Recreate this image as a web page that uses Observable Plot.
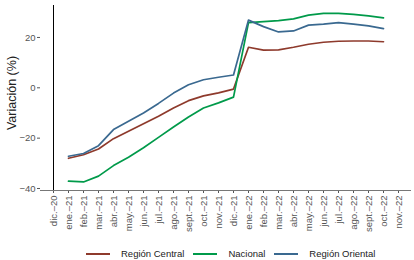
<!DOCTYPE html>
<html><head><meta charset="utf-8">
<script src="https://cdn.jsdelivr.net/npm/d3@7"></script>
<script src="https://cdn.jsdelivr.net/npm/@observablehq/plot@0.6"></script>
<style>
body{margin:0;background:#fff;font-family:"Liberation Sans",Arial,sans-serif;}
#wrap{position:relative;width:414px;height:260px;overflow:hidden;}
#legend{position:absolute;left:86px;top:247px;display:flex;align-items:center;font-size:9.5px;color:#222;line-height:14px;}
.sw{display:inline-block;width:24px;height:2px;margin-right:11px;}
.item{display:flex;align-items:center;margin-right:9px;}
g[aria-label="y-axis label"] text{font-size:12.5px;fill:#222;}
</style></head><body><div id="wrap"></div>
<script>
const months = ["dic.–20","ene.–21","feb.–21","mar.–21","abr.–21","may.–21","jun.–21","jul.–21","ago.–21","sept.–21","oct.–21","nov.–21","dic.–21","ene.–22","feb.–22","mar.–22","abr.–22","may.–22","jun.–22","jul.–22","ago.–22","sept.–22","oct.–22","nov.–22"];
const dataMonths = months.slice(1, 23);
const central  = [-28.0,-26.6,-24.3,-20.2,-17.3,-14.3,-11.3,-8.0,-5.1,-3.2,-2.0,-0.5,16.1,15.0,15.1,16.1,17.3,18.1,18.5,18.6,18.6,18.3];
const nacional = [-37.1,-37.4,-35.1,-30.9,-27.6,-23.8,-19.7,-15.6,-11.6,-8.0,-6.0,-3.7,25.9,26.3,26.7,27.4,28.9,29.6,29.6,29.2,28.6,27.8];
const oriental = [-27.2,-26.1,-23.0,-16.6,-13.3,-10.0,-6.2,-2.1,1.2,3.2,4.2,5.1,26.9,24.3,22.2,22.6,24.9,25.3,25.9,25.3,24.6,23.5];
const seriesNames = ["Región Central","Nacional","Región Oriental"];
const colors = ["#8E3A2C","#009A4A","#3A6990"];
const yTicks = [-40,-20,0,20];

const seriesValues = [central, nacional, oriental];
const rows = [];
seriesNames.forEach((s, i) => dataMonths.forEach((m, j) => rows.push({serie: s, mes: m, valor: seriesValues[i][j]})));

const yDomain = [-40.8, 32.7];
const chart = Plot.plot({
  width: 414, height: 240,
  marginLeft: 40, marginTop: 5, marginBottom: 50, marginRight: 3,
  style: {fontFamily: "'Liberation Sans', Arial, sans-serif", fontSize: "9.5px", color: "#555", background: "white"},
  x: {type: "point", domain: months},
  y: {domain: yDomain},
  color: {domain: seriesNames, range: colors},
  marks: [
    Plot.axisX({tickRotate: -90, tickSize: 3, label: null, tickPadding: 2}),
    Plot.axisY({ticks: yTicks, tickSize: 3, label: "Variación (%)", labelAnchor: "center", labelArrow: false, labelOffset: 33, tickPadding: 2}),
    Plot.ruleY([yDomain[0]], {stroke: "#777", strokeWidth: 1}),
    Plot.ruleX([months[0]], {stroke: "#000", strokeWidth: 1}),
    Plot.line(rows, {x: "mes", y: "valor", z: "serie", stroke: "serie", strokeWidth: 1.7})
  ]
});
const lbl = chart.querySelector('g[aria-label="y-axis label"] text');
if (lbl) lbl.setAttribute("dx", "5");
const wrap = document.getElementById("wrap");
wrap.appendChild(chart);
const leg = document.createElement("div");
leg.id = "legend";
seriesNames.forEach((s, i) => {
  const it = document.createElement("div"); it.className = "item";
  const sw = document.createElement("span"); sw.className = "sw"; sw.style.background = colors[i];
  const tx = document.createElement("span"); tx.textContent = s;
  it.appendChild(sw); it.appendChild(tx); leg.appendChild(it);
});
wrap.appendChild(leg);
</script></body></html>
